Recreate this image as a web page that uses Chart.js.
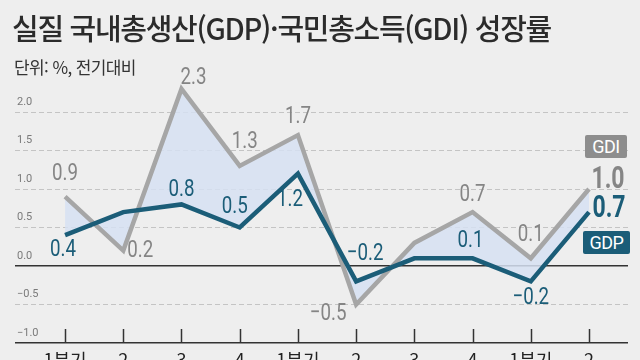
<!DOCTYPE html>
<html lang="ko">
<head>
<meta charset="utf-8">
<script src="https://cdn.jsdelivr.net/npm/chart.js@4"></script>
<style>
  html, body { margin: 0; padding: 0; width: 640px; height: 360px; overflow: hidden; background: #eeeeee; }
  #wrap { position: relative; width: 640px; height: 360px; }
  #chart { position: absolute; left: 0; top: 0; }
  .title { position: absolute; left: 12px; top: 6px; font-family: "Noto Sans CJK KR", sans-serif; font-size: 29px; font-weight: 500; color: #2b2b2b; letter-spacing: -1.3px; white-space: nowrap; }
  .sub { position: absolute; left: 14px; top: 54px; font-family: "Noto Sans CJK KR", sans-serif; font-size: 17px; color: #333; letter-spacing: -0.6px; }
  .tag { position: absolute; color: #fff; font-family: Roboto, sans-serif; font-size: 18px; text-align: center; border-radius: 2px; line-height: 23px; letter-spacing: -0.5px; }
</style>
</head>
<body>
<div id="wrap">
  <canvas id="chart" width="640" height="380"></canvas>
  <div class="title">실질 국내총생산(GDP)·국민총소득(GDI) 성장률</div>
  <div class="sub">단위: %, 전기대비</div>
  <div class="tag" style="left:585px; top:135px; width:42px; background:#8d8d8d;">GDI</div>
  <div class="tag" style="left:583px; top:231px; width:47px; background:#1b5d78;">GDP</div>
</div>
<script>
// 분기 (2년치 + 올해 1~2분기)
const quarters = ['1분기', '2', '3', '4', '1분기', '2', '3', '4', '1분기', '2'];
const gdiValues = [0.9, 0.2, 2.3, 1.3, 1.7, -0.5, 0.3, 0.7, 0.1, 1.0];
const gdpValues = [0.4, 0.7, 0.8, 0.5, 1.2, -0.2, 0.1, 0.1, -0.2, 0.7];
const yTicks = [-1.0, -0.5, 0.0, 0.5, 1.0, 1.5, 2.0];

const gdiColor = '#a6a6a6';
const gdpColor = '#1b5d78';
const numFont = 'Roboto, sans-serif';

// label placement relative to each point (null = no label)
const gdiLabelPos = [[0, -23], [17, 0], [12, -11], [5, -24], [0, -18], [-28, 9], null, [0, -17], [0, -23], [19, -9]];
const gdpLabelPos = [[-2, 15], null, [0, -14], [-5, -21], [-8, 26], [9, -27], null, [-2, -17], [0, 17], [20, -3]];

function fmt(v) {
    return (v < 0 ? '\u2212' : '') + Math.abs(v).toFixed(1);
}

const pointLabels = {
    id: 'pointLabels',
    afterDatasetsDraw(chart) {
        const ctx = chart.ctx;
        const sets = [[0, gdiLabelPos, '#858585'], [1, gdpLabelPos, gdpColor]];
        ctx.save();
        ctx.textAlign = 'center';
        ctx.textBaseline = 'middle';
        sets.forEach(([di, pos, color]) => {
            const meta = chart.getDatasetMeta(di);
            const values = chart.data.datasets[di].data;
            meta.data.forEach((pt, i) => {
                if (!pos[i]) return;
                const last = i === values.length - 1;
                ctx.save();
                ctx.translate(pt.x + pos[i][0], pt.y + pos[i][1]);
                // condensed look like the newspaper font
                ctx.scale(last ? 0.72 : 0.78, 1);
                ctx.fillStyle = color;
                ctx.font = last ? 'bold 32px ' + numFont : '24px ' + numFont;
                ctx.fillText(fmt(values[i].y), 0, 0);
                ctx.restore();
            });
        });
        ctx.restore();
    }
};

// short tick marks standing up from the bottom line
const innerTicks = {
    id: 'innerTicks',
    afterDraw(chart) {
        const ctx = chart.ctx;
        const x = chart.scales.x;
        const bottom = chart.chartArea.bottom;
        ctx.save();
        ctx.strokeStyle = '#333';
        ctx.lineWidth = 1.5;
        quarters.forEach((q, i) => {
            const px = Math.round(x.getPixelForValue(i)) + 0.5;
            ctx.beginPath();
            ctx.moveTo(px, bottom - 14);
            ctx.lineTo(px, bottom);
            ctx.stroke();
        });
        ctx.restore();
    }
};

const isSolid = v => v === 0 || v === -1;

new Chart(document.getElementById('chart').getContext('2d'), {
    type: 'line',
    data: {
        datasets: [
            {
                label: 'GDI',
                data: gdiValues.map((v, i) => ({ x: i, y: v })),
                borderColor: gdiColor,
                borderWidth: 4.5,
                borderJoinStyle: 'miter',
                pointRadius: 0,
                tension: 0,
                fill: { target: 1, above: 'rgba(214, 224, 242, 0.85)', below: 'rgba(214, 224, 242, 0.85)' },
                order: 1
            },
            {
                label: 'GDP',
                data: gdpValues.map((v, i) => ({ x: i, y: v })),
                borderColor: gdpColor,
                borderWidth: 4.5,
                borderJoinStyle: 'miter',
                pointRadius: 0,
                tension: 0,
                fill: false,
                order: 0
            }
        ]
    },
    options: {
        responsive: false,
        animation: false,
        layout: { padding: { left: 15, right: 12, top: 73.5, bottom: 0 } },
        plugins: {
            legend: { display: false },
            tooltip: { enabled: false }
        },
        scales: {
            x: {
                type: 'linear',
                min: -0.86,
                max: 9.67,
                afterBuildTicks: s => { s.ticks = quarters.map((q, i) => ({ value: i })); },
                afterFit: s => { s.height = 37; },
                grid: { display: false, drawTicks: false },
                border: { display: false },
                ticks: {
                    autoSkip: false,
                    maxRotation: 0,
                    padding: 6,
                    color: '#222',
                    font: { family: '"Noto Sans CJK KR", sans-serif', size: 18 },
                    callback: v => quarters[v]
                }
            },
            y: {
                min: -1,
                max: 2.5,
                afterBuildTicks: s => { s.ticks = yTicks.map(v => ({ value: v })); },
                afterFit: s => { s.width = 0; },
                grid: {
                    drawTicks: false,
                    color: c => isSolid(c.tick.value) ? '#333' : '#c4c4c4',
                    lineWidth: c => isSolid(c.tick.value) ? 1.5 : 1
                },
                border: {
                    display: false,
                    dash: c => isSolid(c.tick.value) ? [] : [5, 3]
                },
                ticks: {
                    mirror: true,
                    padding: 2,
                    labelOffset: -10,
                    color: '#7a7a7a',
                    font: { family: numFont, size: 11 },
                    callback: v => fmt(v)
                }
            }
        }
    },
    plugins: [pointLabels, innerTicks]
});
</script>
</body>
</html>
